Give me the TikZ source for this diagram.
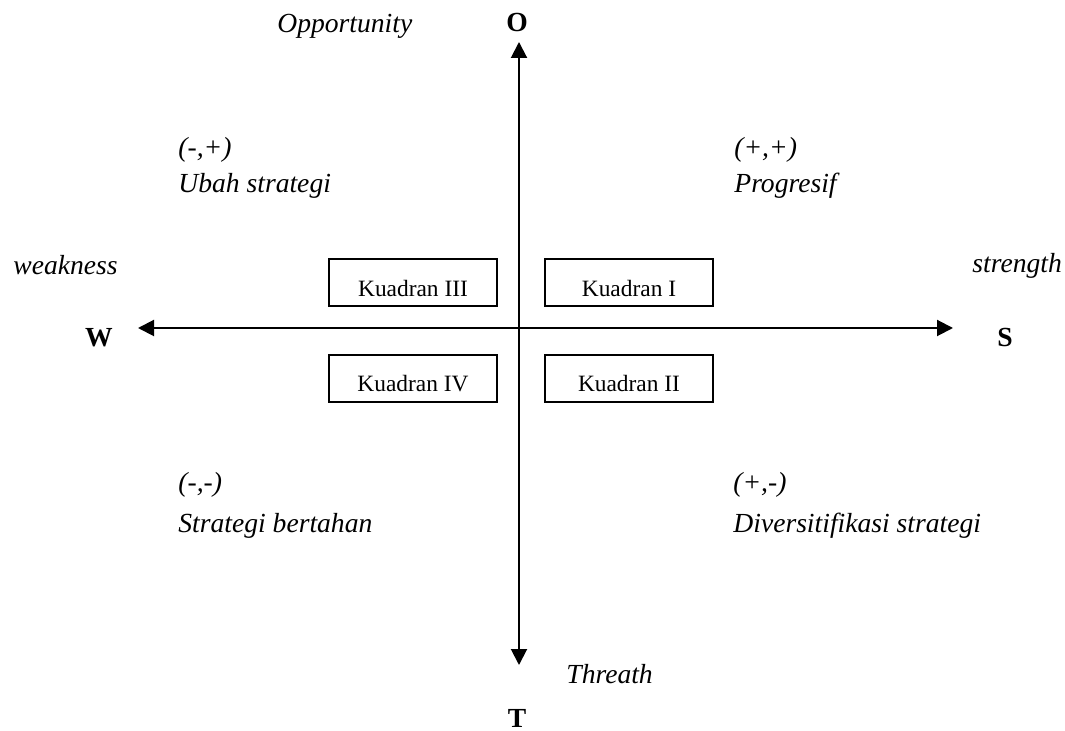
\documentclass[tikz,border=0pt]{standalone}
\usepackage{fontspec}
\setmainfont{Liberation Serif}
\usetikzlibrary{arrows.meta}
\begin{document}
\begin{tikzpicture}
  [x=0.5pt,y=-0.5pt,every node/.style={inner sep=0pt},
   kotak/.style={draw,line width=1pt,minimum width=84pt,minimum height=23.5pt,
     font=\fontsize{11.7}{14}\selectfont},
   ket/.style={anchor=base west,font=\fontsize{13.8}{16}\selectfont\itshape},
   huruf/.style={anchor=base,font=\fontsize{13.8}{16}\selectfont\bfseries},
   panah/.style={line width=1pt,-{Triangle[length=8pt,width=8pt]}}]
  \useasboundingbox (0,0) rectangle (1065,731);
  % sumbu
  \coordinate (pusat) at (519,328);
  \coordinate (otip) at (519,42);
  \coordinate (ttip) at (519,665);
  \coordinate (wtip) at (138,328);
  \coordinate (stip) at (953,328);
  \foreach \tip in {otip,ttip,wtip,stip}
    \draw[panah] (pusat) -- (\tip);
  % kuadran
  \node[kotak] (q3) at (413,282.5) {\raisebox{-7pt}[0pt][0pt]{Kuadran III}};
  \node[kotak] (q1) at (629,282.5) {\raisebox{-7pt}[0pt][0pt]{Kuadran I}};
  \node[kotak] (q4) at (413,379) {\raisebox{-6.5pt}[0pt][0pt]{Kuadran IV}};
  \node[kotak] (q2) at (629,379) {\raisebox{-6.5pt}[0pt][0pt]{Kuadran II}};
  % huruf sumbu
  \node[huruf] (O) at (517,32) {O};
  \node[huruf] (T) at (517,727) {T};
  \node[huruf] (W) at (99,347) {W};
  \node[huruf] (S) at (1005,347) {S};
  % keterangan
  \node[ket] (opp) at (277,33) {Opportunity};
  \node[ket] (thr) at (566,683) {Threath};
  \node[ket] (weak) at (13,275) {weakness};
  \node[ket] (str) at (972,273) {strength};
  \node[ket] (k3a) at (178,157) {(-,+)};
  \node[ket] (k3b) at (178,193) {Ubah strategi};
  \node[ket] (k1a) at (734,157) {(+,+)};
  \node[ket] (k1b) at (734,193) {Progresif};
  \node[ket] (k4a) at (178,492) {(-,-)};
  \node[ket] (k4b) at (178,532) {Strategi bertahan};
  \node[ket] (k2a) at (733,492) {(+,-)};
  \node[ket] (k2b) at (733,532) {Diversitifikasi strategi};
\end{tikzpicture}
\end{document}
